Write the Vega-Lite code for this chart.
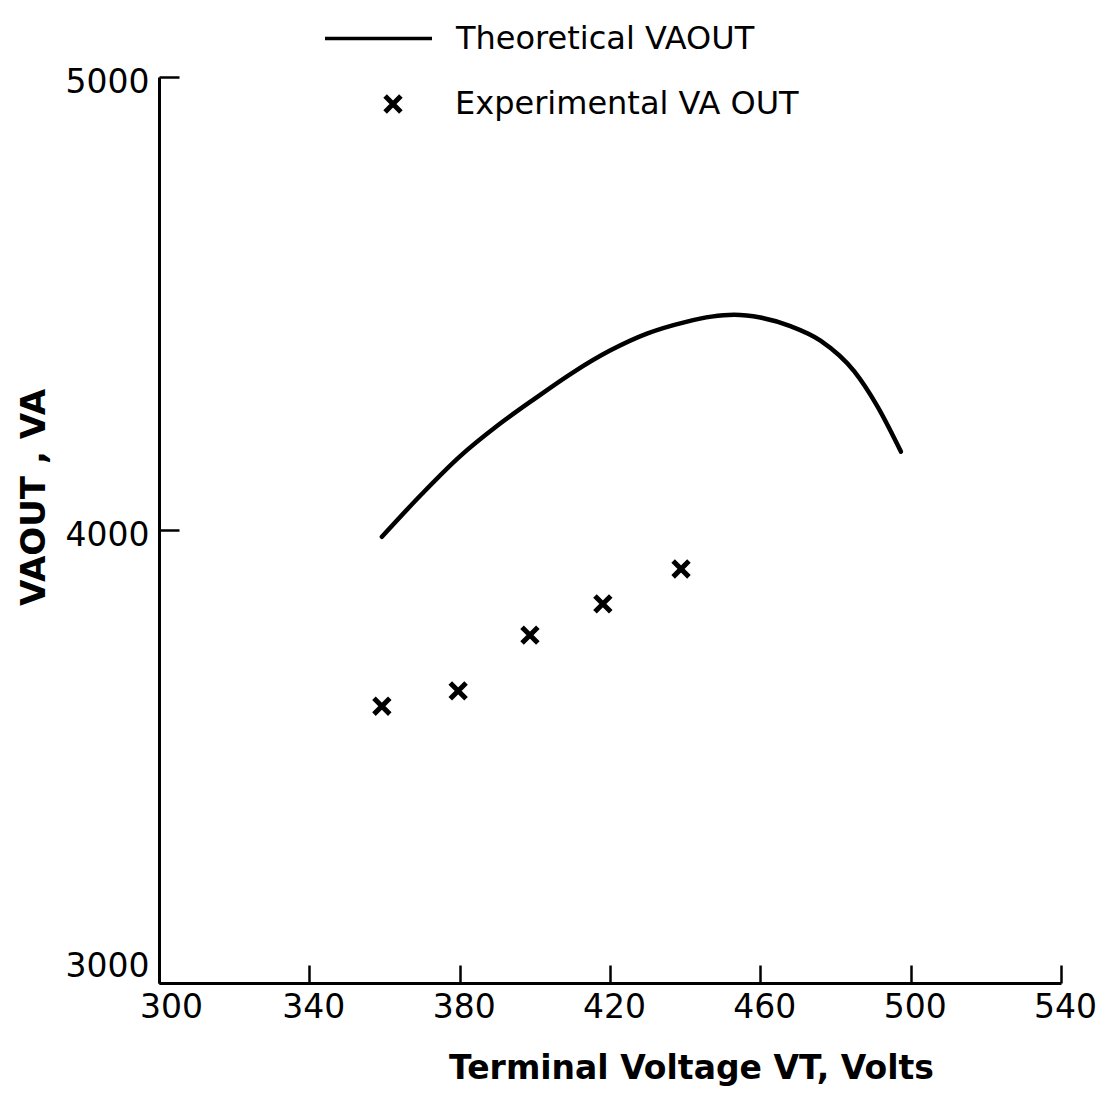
{
  "$schema": "https://vega.github.io/schema/vega-lite/v6.json",
  "width": 902,
  "height": 906,
  "autosize": "none",
  "padding": {"left": 159, "top": 77, "right": 37, "bottom": 118},
  "background": "white",
  "config": {"view": {"stroke": null}, "font": "DejaVu Sans"},
  "datasets": {
    "theory": [
      {"vt": 359.3, "va": 3985, "curve": "Theoretical VAOUT"},
      {"vt": 370, "va": 4080, "curve": "Theoretical VAOUT"},
      {"vt": 380, "va": 4162, "curve": "Theoretical VAOUT"},
      {"vt": 390, "va": 4230, "curve": "Theoretical VAOUT"},
      {"vt": 400, "va": 4290, "curve": "Theoretical VAOUT"},
      {"vt": 410, "va": 4347, "curve": "Theoretical VAOUT"},
      {"vt": 420, "va": 4396, "curve": "Theoretical VAOUT"},
      {"vt": 430, "va": 4434, "curve": "Theoretical VAOUT"},
      {"vt": 440, "va": 4459, "curve": "Theoretical VAOUT"},
      {"vt": 447, "va": 4471, "curve": "Theoretical VAOUT"},
      {"vt": 453, "va": 4475, "curve": "Theoretical VAOUT"},
      {"vt": 460, "va": 4469, "curve": "Theoretical VAOUT"},
      {"vt": 468, "va": 4450, "curve": "Theoretical VAOUT"},
      {"vt": 476, "va": 4418, "curve": "Theoretical VAOUT"},
      {"vt": 485, "va": 4350, "curve": "Theoretical VAOUT"},
      {"vt": 491, "va": 4275, "curve": "Theoretical VAOUT"},
      {"vt": 497.4, "va": 4173, "curve": "Theoretical VAOUT"}
    ],
    "exp": [
      {"vt": 359.3, "va": 3611, "exp": "Experimental VA OUT"},
      {"vt": 379.6, "va": 3645, "exp": "Experimental VA OUT"},
      {"vt": 398.7, "va": 3768, "exp": "Experimental VA OUT"},
      {"vt": 418.1, "va": 3837, "exp": "Experimental VA OUT"},
      {"vt": 438.9, "va": 3914, "exp": "Experimental VA OUT"}
    ]
  },
  "encoding": {
    "x": {
      "field": "vt",
      "type": "quantitative",
      "scale": {"domain": [300, 540], "nice": false, "zero": false},
      "axis": {
        "values": [300, 340, 380, 420, 460, 500, 540],
        "format": "d",
        "title": "Terminal  Voltage VT, Volts",
        "grid": false,
        "domainColor": "black",
        "domainWidth": 3,
        "tickColor": "black",
        "tickWidth": 2.5,
        "tickSize": -18,
        "labelPadding": 26,
        "labelFontSize": 33,
        "labelColor": "black",
        "labelFlush": false,
        "labelLimit": 0,
        "labelOffset": {"condition": {"test": "datum.value == 300", "value": 12}, "value": 4},
        "titleFontSize": 33,
        "titleFontWeight": "bold",
        "titleColor": "black",
        "titlePadding": 28,
        "titleX": 532
      }
    },
    "y": {
      "field": "va",
      "type": "quantitative",
      "scale": {"domain": [3000, 5000], "nice": false, "zero": false},
      "axis": {
        "values": [3000, 4000, 5000],
        "format": "d",
        "title": "VAOUT , VA",
        "grid": false,
        "domainColor": "black",
        "domainWidth": 3,
        "tickColor": "black",
        "tickWidth": 2.5,
        "tickSize": -20,
        "labelPadding": 30,
        "labelFontSize": 33,
        "labelColor": "black",
        "labelFlush": false,
        "labelLimit": 0,
        "labelBaseline": {"condition": {"test": "datum.value == 3000", "value": "bottom"}, "value": "middle"},
        "labelOffset": {"condition": {"test": "datum.value == 3000", "value": 0}, "value": 5},
        "titleFontSize": 34,
        "titleFontWeight": "bold",
        "titleColor": "black",
        "titlePadding": 14,
        "titleY": 420
      }
    }
  },
  "layer": [
    {
      "data": {"name": "theory"},
      "mark": {"type": "line", "interpolate": "monotone", "strokeWidth": 4.5, "strokeCap": "round"},
      "encoding": {
        "color": {
          "field": "curve",
          "type": "nominal",
          "scale": {"range": ["black"]},
          "legend": {
            "orient": "none",
            "legendX": 164,
            "legendY": -94,
            "title": null,
            "padding": 0,
            "symbolType": "stroke",
            "symbolSize": 11449,
            "symbolStrokeWidth": 3.5,
            "symbolStrokeColor": "black",
            "labelFontSize": 32,
            "labelColor": "black",
            "labelOffset": 22,
            "labelLimit": 0
          }
        }
      }
    },
    {
      "data": {"name": "exp"},
      "mark": {"type": "point", "filled": false, "strokeWidth": 5, "size": 250, "color": "black", "opacity": 1},
      "encoding": {
        "shape": {
          "field": "exp",
          "type": "nominal",
          "scale": {"range": ["M-1,-1L1,1M-1,1L1,-1"]},
          "legend": {
            "orient": "none",
            "legendX": 218,
            "legendY": 11,
            "title": null,
            "padding": 0,
            "symbolSize": 250,
            "symbolStrokeWidth": 5,
            "symbolStrokeColor": "black",
            "symbolFillColor": "transparent",
            "labelFontSize": 32,
            "labelColor": "black",
            "labelOffset": 46,
            "labelLimit": 0
          }
        }
      }
    }
  ]
}
